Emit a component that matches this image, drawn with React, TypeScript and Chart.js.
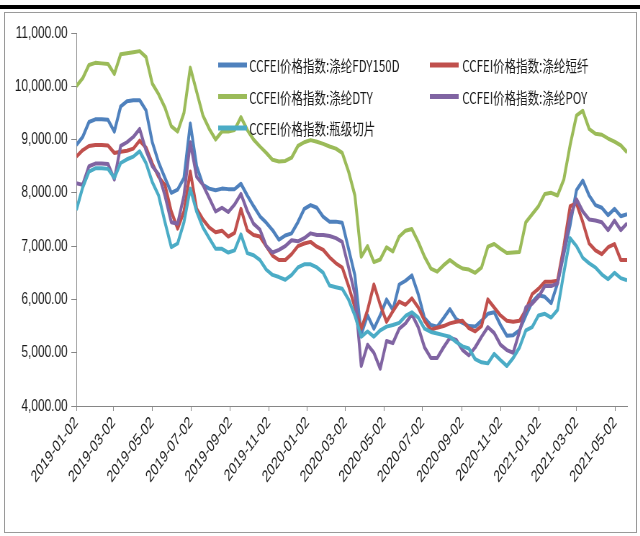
import React, { useEffect, useRef } from "react";
import { Chart, registerables } from "chart.js";

Chart.register(...registerables);

const startDate = "2019-01-02";
const stepDays = 10;

const tickLabels = [
  "2019-01-02", "2019-03-02", "2019-05-02", "2019-07-02", "2019-09-02",
  "2019-11-02", "2020-01-02", "2020-03-02", "2020-05-02", "2020-07-02",
  "2020-09-02", "2020-11-02", "2021-01-02", "2021-03-02", "2021-05-02",
];

const seriesNames = [
  "CCFEI价格指数:涤纶FDY150D",
  "CCFEI价格指数:涤纶短纤",
  "CCFEI价格指数:涤纶DTY",
  "CCFEI价格指数:涤纶POY",
  "CCFEI价格指数:瓶级切片",
];

const seriesColors = ["#4F81BD", "#C0504D", "#9BBB59", "#8064A2", "#4BACC6"];

const fdy150d = [
  8900, 9050, 9330, 9380, 9380, 9370, 9150, 9620, 9720, 9740,
  9740, 9550, 8950, 8570, 8280, 8000, 8060, 8280, 9300, 8500,
  8150, 8080, 8050, 8080, 8070, 8070, 8170, 7950, 7750, 7560,
  7440, 7300, 7120, 7200, 7240, 7450, 7700, 7770, 7720, 7550,
  7460, 7460, 7440, 6950, 6450, 5350, 5700, 5450, 5700, 6000,
  5800, 6280, 6350, 6450, 6100, 5650, 5520, 5490, 5650, 5820,
  5630, 5560, 5500, 5490, 5600, 5730, 5760, 5520, 5320, 5330,
  5420, 5700, 5950, 6080, 6050, 5930, 6300, 6850, 7400, 8050,
  8230, 7950, 7770, 7720, 7580, 7700, 7560, 7600,
];

const staple = [
  8680, 8800, 8880, 8900, 8900, 8890, 8750, 8770, 8790, 8830,
  8980, 8850, 8550, 8300, 8150, 7650, 7330, 7650, 8400, 7700,
  7500, 7350, 7260, 7290, 7180, 7250, 7700, 7300, 7210, 7180,
  7000, 6820, 6740, 6740, 6850, 7000, 7050, 7080, 6990, 6930,
  6790, 6680, 6600, 6250, 5850, 5450, 5800, 6280, 5900, 5580,
  5780, 5960, 5900, 6020, 5850, 5600, 5430, 5470, 5500, 5550,
  5580, 5600, 5460, 5400, 5500, 6000, 5850, 5700, 5600, 5580,
  5600, 5800, 6100, 6200, 6330, 6330, 6350, 7000, 7750, 7800,
  7450, 7050, 6920, 6850, 6980, 7040, 6740, 6740,
];

const dty = [
  10000, 10150, 10400, 10440, 10430, 10420, 10230, 10600, 10620, 10640,
  10660, 10550, 10050, 9850, 9600, 9250, 9150, 9500, 10350, 9900,
  9450, 9200, 9000, 9150, 9150, 9180, 9420, 9180, 9000, 8870,
  8750, 8620, 8590, 8600, 8660, 8880, 8950, 8990, 8960, 8920,
  8870, 8830, 8750, 8400, 7950, 6800, 7000, 6700, 6750, 6980,
  6900, 7180, 7290, 7320, 7080, 6800, 6580, 6520, 6640, 6740,
  6650, 6580, 6560, 6500, 6600, 6990, 7040, 6950, 6870, 6880,
  6890, 7450, 7600, 7750, 7980, 8000, 7950, 8250, 8900, 9450,
  9540, 9200, 9110, 9090, 9020, 8960, 8890, 8760,
];

const poy = [
  8180, 8150, 8500, 8550, 8550, 8540, 8250, 8880, 8950, 9050,
  9200, 8800, 8500, 8350, 7950, 7450, 7420, 7950, 8950, 8300,
  8150, 7900, 7650, 7720, 7640, 7780, 7980, 7660, 7420, 7310,
  7000, 6880, 6930, 7000, 7110, 7090, 7150, 7240, 7210, 7210,
  7190, 7150, 7080, 6600, 6100, 4750, 5150, 5000, 4700, 5220,
  5180, 5450, 5550, 5720, 5480, 5100, 4900, 4900, 5100, 5280,
  5240, 5050, 4950, 5100, 5300, 5480, 5370, 5150, 5050, 5000,
  5400, 5850, 5920, 6050, 6250, 6250, 6300, 6900, 7550, 7880,
  7650, 7500, 7480, 7450, 7300, 7480, 7300, 7430,
];

const bottleChip = [
  7680, 8100, 8400, 8460, 8460, 8450, 8280, 8560, 8630, 8680,
  8780, 8560, 8200, 7950, 7450, 6980, 7050, 7450, 8080, 7650,
  7350, 7150, 6950, 6950, 6880, 6920, 7220, 6870, 6830, 6740,
  6560, 6460, 6420, 6370, 6460, 6600, 6660, 6660, 6600, 6500,
  6260, 6230, 6200, 6000, 5700, 5300, 5400, 5300, 5420, 5490,
  5520, 5560, 5690, 5760, 5660, 5450, 5390, 5360, 5330, 5300,
  5200, 5120, 5080, 4880, 4820, 4800, 4980, 4860, 4750, 4900,
  5100, 5420, 5480, 5700, 5730, 5660, 5800, 6500, 7150, 7000,
  6780, 6680, 6600, 6470, 6380, 6500, 6400, 6360,
];

const seriesValues = [fdy150d, staple, dty, poy, bottleChip];

const yMin = 4000;
const yMax = 11000;
const yStep = 1000;

const W = 889;
const H = 536;
const SX = 0.72;

function dayOffset(s: string): number {
  const [y, m, d] = s.split("-").map(Number);
  const [y0, m0, d0] = startDate.split("-").map(Number);
  return Math.round((Date.UTC(y, m - 1, d) - Date.UTC(y0, m0 - 1, d0)) / 86400000);
}

const tickDays = tickLabels.map(dayOffset);

const legendPlugin = {
  id: "insideLegend",
  afterDraw(chart: any) {
    const ctx = chart.ctx;
    const cols = [{ lx: 303, tx: 346 }, { lx: 597, tx: 642 }];
    const rows = [65, 96.5, 128];
    ctx.save();
    ctx.font = '16px "Noto Sans CJK SC"';
    ctx.textBaseline = "middle";
    ctx.textAlign = "left";
    chart.data.datasets.forEach((ds: any, i: number) => {
      const c = cols[i % 2];
      const y = rows[Math.floor(i / 2)];
      ctx.strokeStyle = ds.borderColor;
      ctx.lineWidth = 5;
      ctx.lineCap = "butt";
      ctx.beginPath();
      ctx.moveTo(c.lx, y);
      ctx.lineTo(c.lx + 40, y);
      ctx.stroke();
      ctx.fillStyle = "#1a1a1a";
      ctx.fillText(ds.label, c.tx, y + 1);
    });
    ctx.restore();
  },
};

export default function App() {
  const ref = useRef<HTMLCanvasElement | null>(null);

  useEffect(() => {
    if (!ref.current) return;
    const datasets = seriesNames.map((name, k) => ({
      label: name,
      data: seriesValues[k].map((v, i) => ({ x: i * stepDays, y: v })),
      borderColor: seriesColors[k],
      backgroundColor: seriesColors[k],
      borderWidth: 4,
      pointRadius: 0,
      tension: 0,
      borderJoinStyle: "round" as const,
      order: seriesNames.length - 1 - k,
    }));
    const lastDay = (fdy150d.length - 1) * stepDays;
    const axisColor = "#868686";
    const chart = new Chart(ref.current, {
      type: "line",
      data: { datasets },
      options: {
        animation: false,
        responsive: false,
        devicePixelRatio: 1,
        layout: { padding: { top: 33, right: W - 871, bottom: 0, left: 0 } },
        plugins: { legend: { display: false }, tooltip: { enabled: false } },
        scales: {
          x: {
            type: "linear",
            min: 0,
            max: lastDay,
            afterBuildTicks: (scale: any) => {
              scale.ticks = tickDays.map((v) => ({ value: v }));
            },
            afterFit: (scale: any) => {
              scale.height = H - 406;
            },
            grid: {
              display: true,
              drawOnChartArea: false,
              drawTicks: true,
              tickLength: 5,
              color: axisColor,
            },
            border: { display: true, color: axisColor, width: 1 },
            ticks: {
              autoSkip: false,
              minRotation: 45,
              maxRotation: 45,
              padding: 2,
              color: "#1a1a1a",
              font: { family: '"Liberation Sans", Arial, sans-serif', size: 16.5 },
              callback: (_v: any, i: number) => tickLabels[i],
            },
          },
          y: {
            min: yMin,
            max: yMax,
            afterFit: (scale: any) => {
              scale.width = 106;
            },
            grid: {
              display: true,
              drawOnChartArea: false,
              drawTicks: true,
              tickLength: 7,
              color: axisColor,
            },
            border: { display: true, color: axisColor, width: 1 },
            ticks: {
              stepSize: yStep,
              padding: 5,
              color: "#1a1a1a",
              font: { family: '"Liberation Sans", Arial, sans-serif', size: 16.5 },
              callback: (v: any) =>
                Number(v).toLocaleString("en-US", {
                  minimumFractionDigits: 2,
                  maximumFractionDigits: 2,
                }),
            },
          },
        },
      },
      plugins: [legendPlugin],
    });
    return () => chart.destroy();
  }, []);

  return (
    <div
      style={{
        position: "fixed",
        left: 0,
        top: 0,
        width: 640,
        height: 536,
        overflow: "hidden",
        background: "#fff",
      }}
    >
      <div style={{ position: "absolute", left: 0, top: 5, width: 640, height: 4, background: "#000" }} />
      <div
        style={{
          position: "absolute",
          left: 4,
          top: 12,
          width: 631,
          height: 519,
          border: "1px solid #9a9a9a",
        }}
      />
      <canvas
        ref={ref}
        width={W}
        height={H}
        style={{
          position: "absolute",
          left: 0,
          top: 0,
          width: W,
          height: H,
          transform: `scaleX(${SX})`,
          transformOrigin: "0 0",
        }}
      />
    </div>
  );
}
